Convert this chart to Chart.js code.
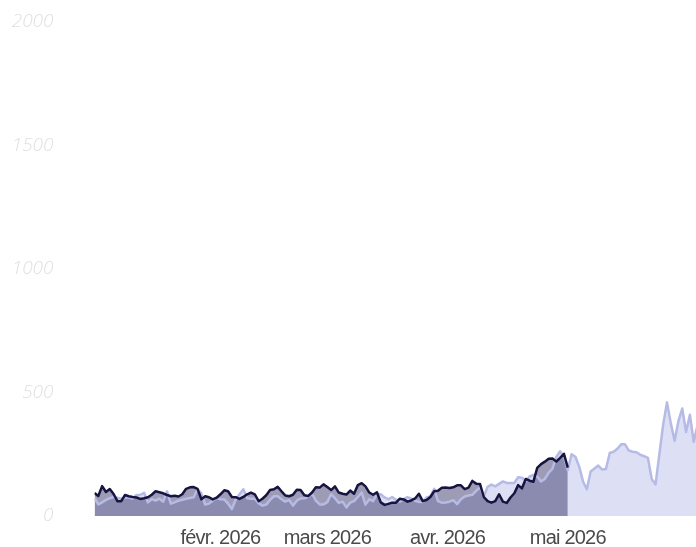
<!DOCTYPE html>
<html>
<head>
<meta charset="utf-8">
<script src="https://cdn.jsdelivr.net/npm/chart.js@4/dist/chart.umd.min.js"></script>
<style>
  html, body { margin: 0; padding: 0; background: #fff; overflow: hidden; }
  canvas { display: block; }
</style>
</head>
<body>
<canvas id="visits" width="696" height="547"></canvas>
<script>
// one value per day, day 0 = 30 déc. 2025
const currentYear = [
  93, 81, 121, 97, 109, 89, 60, 60, 85, 80, 77, 75, 69, 72, 76, 86, 100, 96, 92, 85,
  80, 82, 79, 88, 110, 116, 117, 110, 68, 80, 76, 67, 74, 88, 104, 100, 77, 76, 69, 77,
  88, 95, 88, 60, 70, 84, 105, 108, 118, 100, 83, 80, 86, 106, 105, 84, 81, 95, 116, 115,
  128, 117, 105, 120, 95, 90, 87, 103, 90, 125, 133, 120, 95, 86, 96, 55, 45, 49, 54, 54,
  70, 67, 58, 63, 71, 90, 60, 65, 77, 100, 102, 114, 115, 113, 116, 124, 124, 109, 115, 142,
  131, 130, 77, 60, 54, 60, 88, 58, 53, 75, 92, 125, 112, 150, 143, 139, 195, 210, 220, 232,
  233, 220, 235, 252, 196
];

const previousYear = [
  73, 47, 55, 65, 72, 77, 74, 70, 74, 76, 70, 85, 86, 94, 55, 68, 62, 70, 58, 100,
  50, 55, 62, 66, 70, 73, 76, 108, 92, 46, 50, 63, 73, 68, 67, 50, 28, 67, 88, 108,
  72, 70, 70, 52, 42, 46, 65, 80, 80, 68, 58, 65, 42, 62, 71, 72, 78, 90, 62, 47,
  47, 56, 88, 72, 53, 58, 35, 54, 60, 77, 95, 46, 68, 60, 88, 88, 75, 68, 77, 66,
  58, 68, 76, 70, 62, 57, 57, 75, 79, 110, 60, 54, 55, 58, 64, 48, 68, 79, 83, 86,
  102, 116, 80, 118, 127, 120, 130, 140, 134, 134, 134, 157, 155, 140, 160, 166, 160, 140, 150, 175,
  192, 239, 262, 240, 185, 250, 240, 200, 140, 108, 180, 192, 204, 188, 190, 255, 260, 272, 290, 290,
  265, 260, 258, 248, 242, 235, 150, 128, 250, 370, 460, 375, 305, 385, 435, 340, 410, 300, 368
];

const tickDays = [33, 61, 92.5, 124];
const tickLabels = ["févr. 2026", "mars 2026", "avr. 2026", "mai 2026"];
const lastVisibleDay = 157.6;

const toPoints = (values) => values.map((v, i) => ({ x: i, y: v }));

// month labels are set tight; x labels draw before the datasets, y labels after (z: 1)
const tightText = {
  id: "tightText",
  beforeDraw(chart) {
    chart.ctx.letterSpacing = "-0.8px";
  },
  beforeDatasetsDraw(chart) {
    chart.ctx.letterSpacing = "0px";
  },
};

const chart = new Chart("visits", {
  type: "line",
  data: {
    datasets: [
      {
        label: "2026",
        data: toPoints(currentYear),
        borderColor: "rgb(24, 20, 64)",
        backgroundColor: "rgba(40, 35, 90, 0.45)",
        borderWidth: 2.5,
        fill: "origin",
      },
      {
        label: "2025",
        data: toPoints(previousYear),
        borderColor: "rgb(182, 187, 230)",
        backgroundColor: "rgba(180, 185, 230, 0.45)",
        borderWidth: 2.5,
        fill: "origin",
      },
    ],
  },
  plugins: [tightText],
  options: {
    responsive: false,
    animation: false,
    parsing: false,
    layout: { padding: 0 },
    elements: {
      point: { radius: 0 },
      line: { tension: 0, borderJoinStyle: "round" },
    },
    plugins: {
      legend: { display: false },
      tooltip: { enabled: false },
      filler: { drawTime: "beforeDatasetsDraw" },
    },
    scales: {
      x: {
        type: "linear",
        min: 0,
        max: lastVisibleDay,
        grid: { display: false, drawTicks: false },
        border: { display: false },
        afterBuildTicks(axis) {
          axis.ticks = tickDays.map((d) => ({ value: d }));
        },
        afterFit(axis) {
          axis.height = 31;
          axis.paddingLeft = 0;
          axis.paddingRight = 0;
        },
        ticks: {
          autoSkip: false,
          maxRotation: 0,
          padding: 10,
          color: "#4a4a4a",
          font: { family: "Liberation Sans", size: 20 },
          callback: (value) => tickLabels[tickDays.indexOf(value)],
        },
      },
      y: {
        min: 0,
        max: 2000,
        grid: { display: false, drawTicks: false },
        border: { display: false },
        afterFit(axis) {
          // keep the wide label gap without the extra top/bottom room
          axis.width = 94.5;
          axis.paddingTop = 22;
          axis.paddingBottom = 0;
        },
        ticks: {
          z: 1,
          stepSize: 500,
          padding: 41,
          color: "#e0e0e0",
          font: { family: "Open Sans", size: 19, style: "italic", weight: "300" },
          callback: (value) => String(value),
        },
      },
    },
  },
});
</script>
</body>
</html>
